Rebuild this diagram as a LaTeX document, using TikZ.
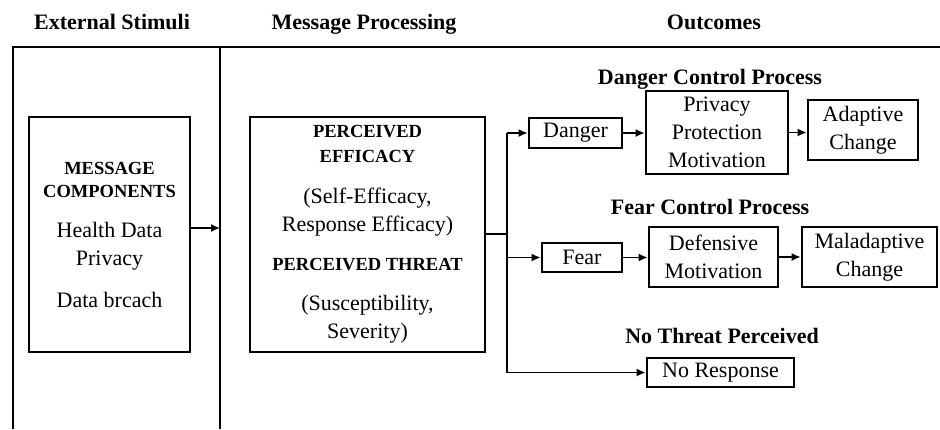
\documentclass[tikz,border=0pt]{standalone}
\usepackage{fontspec}
\setmainfont{Liberation Serif}
\usetikzlibrary{arrows.meta,positioning}

\newcommand{\bodysize}{\fontsize{22}{28}\selectfont}
\newcommand{\capline}[1]{{\fontsize{18.5}{23}\selectfont\bfseries #1}}

\begin{document}
\begin{tikzpicture}[x=1pt,y=-1pt,
  box/.style={draw,line width=2.7pt,inner sep=0pt,align=center,font=\bodysize},
  conn/.style={line width=1.5pt,-{Latex[length=9pt,width=8pt]}},
  head/.style={font=\fontsize{22}{26}\selectfont\bfseries,anchor=base}]
  \useasboundingbox (0,0) rectangle (940,429);
  % column frame
  \draw[line width=2.2pt] (13,429) -- (13,47) -- (940,47);
  \draw[line width=2.2pt] (220,47) -- (220,429);
  \node[head] (hstim) at (112,29) {External Stimuli};
  \node[head] (hproc) at (364,29) {Message Processing};
  \node[head] (hout) at (714,29) {Outcomes};

  % stimuli and processing
  \node[box,minimum width=161pt,minimum height=235pt] (msg) at (109.5,234.5)
    {\capline{MESSAGE}\\[-5pt]\capline{COMPONENTS}\\[12pt]Health Data\\Privacy\\[14pt]Data brcach};
  \node[box,minimum width=235pt,minimum height=235pt] (perc) at (367.5,234.5)
    {\capline{PERCEIVED}\\[-3pt]\capline{EFFICACY}\\[13pt](Self-Efficacy,\\Response Efficacy)\\[11pt]%
     \capline{PERCEIVED THREAT}\\[12pt](Susceptibility,\\Severity)};
  \coordinate (div) at (220,228);
  \draw[conn] (msg.east |- div) -- (div);

  % outcomes
  \node[head] (tdanger) at (710,84) {Danger Control Process};
  \node[head] (tfear) at (710,214) {Fear Control Process};
  \node[head] (tnone) at (722,343) {No Threat Perceived};
  \node[box,minimum width=93pt,minimum height=30pt] (danger) at (575.5,133) {Danger};
  \node[box,minimum width=142pt,minimum height=83pt] (ppm) at (717,132.5) {Privacy\\Protection\\Motivation};
  \node[box,minimum width=110pt,minimum height=60pt] (adapt) at (863,130) {Adaptive\\Change};
  \node[box,minimum width=80pt,minimum height=29pt] (fear) at (582,257.5) {Fear};
  \node[box,minimum width=129pt,minimum height=60pt] (defm) at (713.5,257) {Defensive\\Motivation};
  \node[box,minimum width=135pt,minimum height=60pt] (malad) at (869.5,257) {Maladaptive\\Change};
  \node[box,minimum width=147pt,minimum height=29pt] (noresp) at (720.5,372.5) {No Response};

  \coordinate (fork) at (507,234);
  \draw[line width=1.5pt] (perc.east |- fork) -- (fork);
  \draw[line width=1.5pt] (fork |- danger.west) -- (fork |- noresp.west);
  \foreach \n in {danger,fear,noresp}
    \draw[conn] (fork |- \n.west) -- (\n.west);
  \draw[conn] (danger.east) -- (danger.east -| ppm.west);
  \draw[conn] (ppm.east) -- (ppm.east -| adapt.west);
  \draw[conn] (fear.east) -- (fear.east -| defm.west);
  \draw[conn] (defm.east) -- (defm.east -| malad.west);
\end{tikzpicture}
\end{document}
